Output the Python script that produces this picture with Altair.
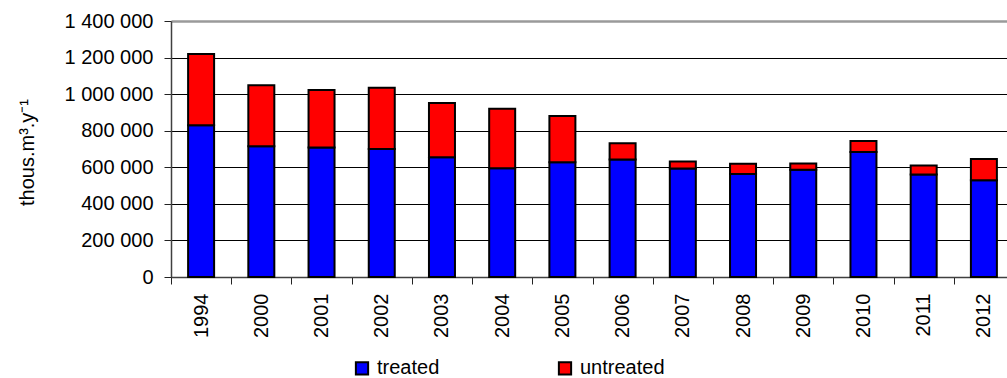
import altair as alt
import pandas as pd

# Wastewater discharged, thousand m3 per year
years = ["1994", "2000", "2001", "2002", "2003", "2004", "2005",
         "2006", "2007", "2008", "2009", "2010", "2011", "2012"]
treated = [830000, 715000, 708000, 700000, 655000, 595000, 627000,
           643000, 594000, 563000, 587000, 683000, 561000, 529000]
untreated = [390000, 333000, 314000, 335000, 296000, 325000, 253000,
             88000, 38000, 57000, 34000, 61000, 49000, 116000]
series = ["treated", "untreated"]
colors = ["#0000FF", "#FF0000"]
y_ticks = [0, 200000, 400000, 600000, 800000, 1000000, 1200000, 1400000]

rows = []
for i, yr in enumerate(years):
    rows.append({"year": yr, "kind": "treated", "value": treated[i], "ord": 0})
    rows.append({"year": yr, "kind": "untreated", "value": untreated[i], "ord": 1})
df = pd.DataFrame(rows)

FONT = "Liberation Sans"

chart = alt.Chart(df).mark_bar(
    stroke="black", strokeWidth=2, size=26
).encode(
    x=alt.X(
        "year:N",
        sort=years,
        scale=alt.Scale(range=[0, 843], paddingInner=0, paddingOuter=0),
        axis=alt.Axis(
            title=None,
            labelAngle=270,
            labelFontSize=20,
            labelFont=FONT,
            labelColor="black",
            labelPadding=9,
            tickBand="extent",
            tickSize=7,
            tickColor="#222222",
            tickWidth=1,
            domainColor="#404040",
            domainWidth=1.5,
            grid=False,
        ),
    ),
    y=alt.Y(
        "value:Q",
        stack="zero",
        scale=alt.Scale(domain=[0, 1400000], nice=False),
        axis=alt.Axis(
            values=y_ticks,
            title="thous.m³.y⁻¹",
            titleFontSize=20,
            titleFont=FONT,
            titleFontWeight="normal",
            titleColor="black",
            titleAngle=270,
            titleX=-138,
            titleY=131,
            titleAlign="center",
            titleBaseline="alphabetic",
            labelExpr="replace(format(datum.value, ','), regexp(',', 'g'), ' ')",
            labelFontSize=20,
            labelFont=FONT,
            labelColor="black",
            labelPadding=11,
            tickSize=7,
            tickColor="#222222",
            domainColor="#404040",
            domainWidth=1.5,
            grid=True,
            gridColor={"condition": {"test": "datum.value == 1400000", "value": "#9a9a9a"}, "value": "#000000"},
            gridWidth={"condition": {"test": "datum.value == 1400000", "value": 2.5}, "value": 1},
        ),
    ),
    color=alt.Color(
        "kind:N",
        scale=alt.Scale(domain=series, range=colors),
        legend=alt.Legend(
            title=None,
            orient="none",
            legendX=181,
            legendY=337,
            direction="horizontal",
            columns=2,
            columnPadding=114,
            symbolType="square",
            symbolSize=150,
            symbolStrokeColor="black",
            symbolStrokeWidth=2,
            labelFontSize=20,
            labelFont=FONT,
            labelColor="black",
            labelOffset=5,
            padding=0,
        ),
    ),
    order=alt.Order("ord:Q", sort="ascending"),
).properties(
    width=836,
    height=256,
    autosize=alt.AutoSizeParams(type="none"),
    padding={"left": 171, "top": 21, "right": 0, "bottom": 101},
).configure_view(
    stroke=None
).configure(
    background="white"
)

chart.save("out.html", embed_options={"renderer": "svg", "actions": False})
